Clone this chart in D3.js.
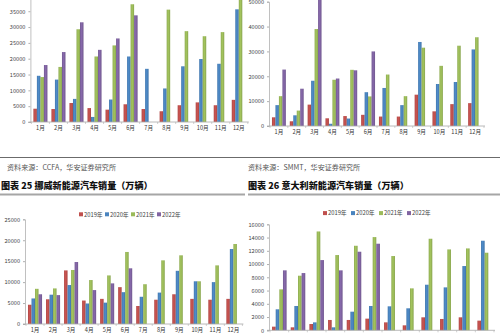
<!DOCTYPE html>
<html>
<head>
<meta charset="utf-8">
<script src="https://cdn.jsdelivr.net/npm/d3@7"></script>
<style>
  html, body { margin: 0; padding: 0; background: #fff; }
  svg { display: block; }
  text { font-family: "Noto Sans CJK SC", "DejaVu Sans", sans-serif; }
</style>
</head>
<body>
<svg id="page" width="500" height="333"></svg>
<script>
// Month categories and series names
const months = ["1月","2月","3月","4月","5月","6月","7月","8月","9月","10月","11月","12月"];
const seriesNames = ["2019年","2020年","2021年","2022年"];
const seriesColors = ["#c0504d","#4a84bf","#9bbb59","#8064a2"];

// France (CCFA) monthly NEV sales
const fr2019 = [4200, 4100, 6000, 4400, 3900, 5600, 4100, 3400, 5300, 6200, 5300, 7000];
const fr2020 = [14600, 13400, 7300, 1600, 7100, 20700, 16800, 10600, 17600, 19900, 18400, 35600];
const fr2021 = [14200, 17400, 29300, 20700, 24200, 37200, null, 35500, 28700, 27100, 28400, 40000];
const fr2022 = [18000, 22100, 31500, 22800, 26400, 33700, null, null, null, null, null, null];
const frTicks = [0, 5000, 10000, 15000, 20000, 25000, 30000, 35000];

// UK (SMMT) monthly NEV sales
const uk2019 = [3500, 1900, 8600, 3100, 4000, 4500, 3800, 3800, 12600, 5900, 8800, 9200];
const uk2020 = [8400, 4300, 18200, 900, 3000, 13600, 15300, 8400, 33800, 16900, 17700, 30800];
const uk2021 = [12000, 6200, 39000, 18600, 22600, 11900, 20700, 12000, 31500, 24200, 32300, 35700];
const uk2022 = [22700, 15000, 53000, 19100, 22400, 30000, null, null, null, null, null, null];
const ukTicks = [0, 10000, 20000, 30000, 40000, 50000];

// Norway monthly NEV sales
const no2019 = [4600, 5900, 12800, 5600, 6000, 8800, 4300, 5800, 7100, 6000, 5800, 6000];
const no2020 = [6100, 7000, 9300, 4900, 5100, 7600, 6500, 7500, 12700, 10200, 10000, 17900];
const no2021 = [8400, 8500, 12900, 10500, 11600, 17200, 9500, 15200, 16400, 10200, 14000, 19100];
const no2022 = [7100, 6900, 14800, 8100, 9700, 13300, null, null, null, null, null, null];
const noTicks = [0, 5000, 10000, 15000, 20000, 25000];

// Italy monthly NEV sales
const it2019 = [550, 450, 950, 1560, 1560, 1760, 1200, 750, 1960, 1710, 1960, 1460];
const it2020 = [3170, 3670, 1200, 450, 2810, 3670, 3620, 3320, 6880, 6480, 9700, 13520];
const it2021 = [6180, 8240, 14920, 11360, 12760, 14070, 11210, 6330, 13820, 12210, 12360, 11710];
const it2022 = [9050, 8640, 10600, 9050, 11860, 13070, null, null, null, null, null, null];
const itTicks = [0, 2000, 4000, 6000, 8000, 10000, 12000, 14000, 16000];

const svg = d3.select("#page");
svg.append("rect").attr("width", 500).attr("height", 333).attr("fill", "#fff");

function drawChart(cfg) {
  const g = svg.append("g");
  const y = d3.scaleLinear().domain([0, cfg.yMax]).range([cfg.base, cfg.top]);
  const x0 = d3.scaleBand().domain(months).range([cfg.left, cfg.right])
    .paddingInner(0.22).paddingOuter(0.11);
  const x1 = d3.scaleBand().domain(seriesNames).range([0, x0.bandwidth()]);

  // value axis
  const yAxis = d3.axisLeft(y).tickValues(cfg.ticks).tickSize(2).tickPadding(3)
    .tickFormat(d3.format("d"));
  const ya = g.append("g").attr("transform", `translate(${cfg.left - 1},0)`).call(yAxis);
  ya.select(".domain").attr("stroke", "#b0b0b0").attr("stroke-width", 0.8);
  ya.selectAll(".tick line").attr("stroke", "#b0b0b0");
  ya.selectAll("text").attr("font-size", 5.6).attr("fill", "#444")
    .attr("font-family", "'Liberation Serif', serif");

  // bars
  cfg.series.forEach((vals, si) => {
    g.append("g").selectAll("rect")
      .data(months.map((m, i) => ({ m, v: vals[i] })).filter(d => d.v != null))
      .join("rect")
      .attr("x", d => x0(d.m) + x1(seriesNames[si]))
      .attr("width", x1.bandwidth())
      .attr("y", d => y(d.v))
      .attr("height", d => y(0) - y(d.v))
      .attr("fill", `url(#grad${si})`);
  });

  // category axis
  const xAxis = d3.axisBottom(x0).tickSize(0).tickPadding(4);
  const xa = g.append("g").attr("transform", `translate(0,${cfg.base})`).call(xAxis);
  xa.select(".domain").attr("stroke", "#a8a8a8").attr("stroke-width", 0.8)
    .attr("d", `M${cfg.left - 3},0H${cfg.right + 1}`);
  xa.selectAll("text").attr("font-size", 5.6).attr("fill", "#333")
    .attr("font-family", "'Liberation Serif', 'Noto Sans CJK SC', serif");
  // tick marks between categories
  xa.selectAll(".sep").data(d3.range(13)).join("line")
    .attr("x1", i => cfg.left + i * x0.step()).attr("x2", i => cfg.left + i * x0.step())
    .attr("y1", 0).attr("y2", 2).attr("stroke", "#b0b0b0").attr("stroke-width", 0.6);

  // legend
  if (cfg.legend) {
    const lg = g.append("g").attr("transform", `translate(${cfg.legend[0]},${cfg.legend[1]})`);
    seriesNames.forEach((s, i) => {
      const it = lg.append("g").attr("transform", `translate(${i * cfg.legendStep},0)`);
      it.append("rect").attr("x", 0).attr("y", -2.2).attr("width", 4).attr("height", 4)
        .attr("fill", seriesColors[i]);
      it.append("text").attr("x", 5).attr("y", 2).attr("font-size", 5.8).attr("fill", "#444")
        .attr("font-family", "'Liberation Serif', 'Noto Sans CJK SC', serif").text(s);
    });
  }
}

// soft horizontal shading on bars
const defs = svg.append("defs");
seriesColors.forEach((c, i) => {
  const gr = defs.append("linearGradient").attr("id", "grad" + i)
    .attr("x1", "0%").attr("x2", "100%").attr("y1", "0%").attr("y2", "0%");
  gr.append("stop").attr("offset", "0%").attr("stop-color", d3.color(c).darker(0.25));
  gr.append("stop").attr("offset", "45%").attr("stop-color", d3.color(c).brighter(0.15));
  gr.append("stop").attr("offset", "100%").attr("stop-color", d3.color(c).darker(0.35));
});

drawChart({ series: [fr2019, fr2020, fr2021, fr2022], ticks: frTicks, yMax: 40000,
  base: 122, top: -4.6, left: 31.4, right: 247.8 });
drawChart({ series: [uk2019, uk2020, uk2021, uk2022], ticks: ukTicks, yMax: 50000,
  base: 126, top: 1.7, left: 270, right: 484 });
drawChart({ series: [no2019, no2020, no2021, no2022], ticks: noTicks, yMax: 25000,
  base: 324, top: 219.3, left: 26, right: 242.4, legend: [79, 214.5], legendStep: 26 });
drawChart({ series: [it2019, it2020, it2021, it2022], ticks: itTicks, yMax: 16000,
  base: 330.3, top: 224.3, left: 270, right: 494, legend: [323, 213.3], legendStep: 28 });

// rule under the upper charts
svg.append("line").attr("x1", 0).attr("x2", 500).attr("y1", 157.5).attr("y2", 157.5)
  .attr("stroke", "#5a5a5a").attr("stroke-width", 0.9);

// source notes
const notes = [["资料来源：CCFA，华安证券研究所", 7], ["资料来源：SMMT，华安证券研究所", 248]];
notes.forEach(([t, x]) => {
  svg.append("text").attr("x", x).attr("y", 170).attr("font-size", 7.1).attr("fill", "#555")
    .attr("font-family", "'Noto Sans CJK SC', serif").text(t);
});

// chart titles with underline
const titles = [["图表 25 挪威新能源汽车销量（万辆）", 1], ["图表 26 意大利新能源汽车销量（万辆）", 248]];
titles.forEach(([t, x]) => {
  svg.append("text").attr("x", x).attr("y", 189).attr("font-size", 9.1).attr("font-weight", 900)
    .attr("fill", "#111").attr("font-family", "'Noto Sans CJK SC', sans-serif").text(t);
});
svg.append("line").attr("x1", 0).attr("x2", 245).attr("y1", 194.5).attr("y2", 194.5)
  .attr("stroke", "#a6a6a6").attr("stroke-width", 1.8);
svg.append("line").attr("x1", 248).attr("x2", 500).attr("y1", 194.5).attr("y2", 194.5)
  .attr("stroke", "#a6a6a6").attr("stroke-width", 1.8);
</script>
</body>
</html>
